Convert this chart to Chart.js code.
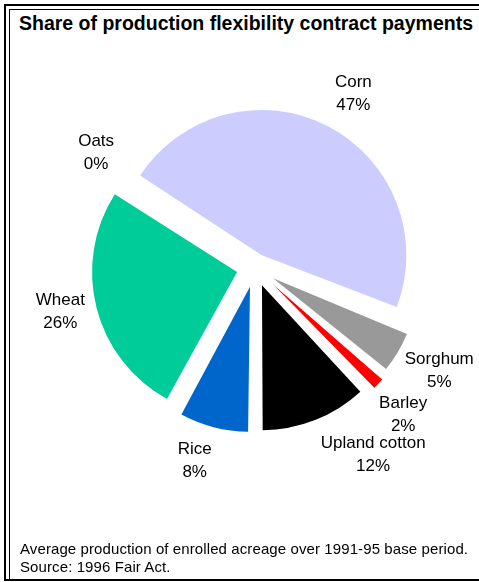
<!DOCTYPE html>
<html>
<head>
<meta charset="utf-8">
<script src="https://cdn.jsdelivr.net/npm/chart.js@4.4.1/dist/chart.umd.min.js"></script>
<style>
  html, body { margin: 0; padding: 0; background: #fff; }
  #wrap { position: relative; width: 479px; height: 582px; overflow: hidden;
          font-family: "Liberation Sans", Arial, sans-serif; color: #000; }
  #chart { position: absolute; left: 0; top: 0; }
  .rule { position: absolute; background: #000; }
  #title { position: absolute; left: 19px; top: 12px; font-weight: bold;
           font-size: 19.5px; white-space: nowrap; }
  #note { position: absolute; left: 20px; top: 540px; font-size: 15px;
          letter-spacing: 0.1px; line-height: 18px; white-space: nowrap; }
</style>
</head>
<body>
<div id="wrap">
  <div class="rule" style="left:4px;top:4px;width:475px;height:2px"></div>
  <div class="rule" style="left:4px;top:4px;width:2px;height:577px"></div>
  <div class="rule" style="left:9px;top:9px;width:470px;height:1px"></div>
  <div class="rule" style="left:9px;top:9px;width:1px;height:571px"></div>
  <div class="rule" style="left:4px;top:579px;width:475px;height:2px"></div>
  <div id="title">Share of production flexibility contract payments</div>
  <canvas id="chart" width="479" height="582"></canvas>
  <div id="note">Average production of enrolled acreage over 1991-95 base period.<br>Source: 1996 Fair Act.</div>
</div>
<script>
// данные: доли выплат по культурам, %
const categories = ['Corn', 'Sorghum', 'Barley', 'Upland cotton', 'Rice', 'Wheat', 'Oats'];
const shares = [47, 5, 2, 12, 8, 26, 0];

// оформление
const sliceColors = ['#CCCCFF', '#999999', '#FF0000', '#000000', '#0066CC', '#00CC99', '#FFFFFF'];
const sliceOffsets = [56, 84, 98, 76, 80, 74, 0];   // вынос секторов (Chart.js делит на 4)
const labelNudge = [[5, 9], [8, -1], [-1, 7], [43, -3], [-9, -5], [4, -6], [14, -5]];
const PIE_R = 145;
const LABEL_DIST = 205;

// Chart.js увеличивает радиус узких вынесенных секторов - возвращаем общий радиус
const explodeFix = {
    id: 'explodeFix',
    beforeDatasetsDraw(chart) {
        chart.getDatasetMeta(0).data.forEach(arc => {
            const off = (arc.options.offset || 0) / 4;
            const fix = 1 - Math.sin(Math.min(Math.PI, arc.circumference));
            arc.outerRadius = PIE_R - off * fix;
        });
    }
};

// подписи секторов: название и процент
const sliceLabels = {
    id: 'sliceLabels',
    afterDatasetsDraw(chart) {
        const c = chart.ctx;
        c.save();
        c.font = '17px "Liberation Sans", Arial, sans-serif';
        c.fillStyle = '#000';
        c.textAlign = 'center';
        c.textBaseline = 'middle';
        chart.getDatasetMeta(0).data.forEach((arc, i) => {
            const mid = (arc.startAngle + arc.endAngle) / 2;
            const x = arc.x + Math.cos(mid) * LABEL_DIST + labelNudge[i][0];
            const y = arc.y + Math.sin(mid) * LABEL_DIST + labelNudge[i][1];
            c.fillText(categories[i], x, y - 11.5);
            c.fillText(shares[i] + '%', x, y + 11.5);
        });
        c.restore();
    }
};

const ctx = document.getElementById('chart').getContext('2d');
const chart = new Chart(ctx, {
    type: 'pie',
    data: {
        labels: categories,
        datasets: [{
            data: shares,
            backgroundColor: sliceColors,
            offset: sliceOffsets,
            hoverOffset: 0,
            borderWidth: 0,
            radius: PIE_R
        }]
    },
    options: {
        responsive: false,
        animation: false,
        events: [],
        rotation: -57.5,
        layout: { padding: { left: 41, right: 10, top: 60, bottom: 107 } },
        plugins: { legend: { display: false }, tooltip: { enabled: false } }
    },
    plugins: [explodeFix, sliceLabels]
});
</script>
</body>
</html>
